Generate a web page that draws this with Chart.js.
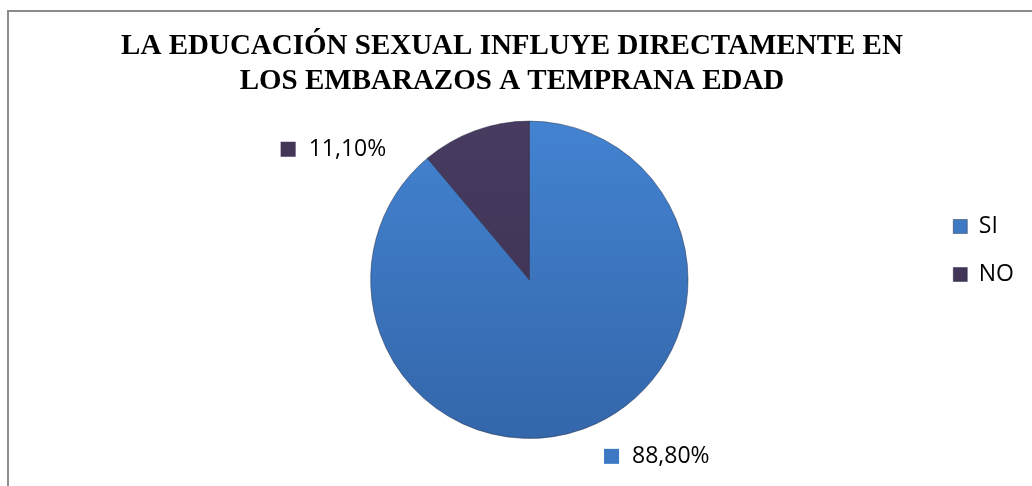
<!DOCTYPE html>
<html>
<head>
<meta charset="utf-8">
<script src="https://cdn.jsdelivr.net/npm/chart.js@4"></script>
<style>
  html, body { margin: 0; padding: 0; background: #fff; }
  #frame { position: absolute; left: 7px; top: 10px; width: 1100px; height: 600px; border: 2px solid #8c8c8c; }
  #wrap { position: absolute; left: 0; top: 0; width: 1032px; height: 486px; }
</style>
</head>
<body>
<div id="frame"></div>
<div id="wrap"><canvas id="pieChart" width="1032" height="486"></canvas></div>
<script>
const categories = ['SI', 'NO'];
const percentages = [88.8, 11.1];
const titleLines = ['LA EDUCACIÓN SEXUAL INFLUYE DIRECTAMENTE EN', 'LOS EMBARAZOS A TEMPRANA EDAD'];

const baseColors = ['#3c78c4', '#433657'];
const topColors = ['#4383d1', '#473b60'];
const bottomColors = ['#3466aa', '#3a2f4f'];

// percentage labels outside the slices, with a small colour square in front
const outsideLabels = {
    id: 'outsideLabels',
    afterDatasetsDraw(chart, args, opts) {
        const ctx = chart.ctx;
        const meta = chart.getDatasetMeta(0);
        ctx.save();
        ctx.font = opts.font;
        ctx.textBaseline = 'middle';
        ctx.textAlign = 'left';
        meta.data.forEach((arc, i) => {
            const mid = (arc.startAngle + arc.endAngle) / 2;
            const r = arc.outerRadius * 1.1;
            const off = opts.offsets[i];
            const x = arc.x + Math.cos(mid) * r + off.dx;
            const y = arc.y + Math.sin(mid) * r + off.dy;
            ctx.fillStyle = baseColors[i];
            ctx.fillRect(x, y - 7, 15, 15);
            ctx.fillStyle = '#000';
            const txt = percentages[i].toFixed(2).replace('.', ',') + '%';
            ctx.fillText(txt, x + 28, y + 1);
        });
        ctx.restore();
    }
};

function sliceFill(context) {
    const i = context.dataIndex;
    const area = context.chart.chartArea;
    if (!area) return baseColors[i];
    const g = context.chart.ctx.createLinearGradient(0, area.top, 0, area.bottom);
    g.addColorStop(0, topColors[i]);
    g.addColorStop(1, bottomColors[i]);
    return g;
}

new Chart(document.getElementById('pieChart'), {
    type: 'pie',
    data: {
        labels: categories,
        datasets: [{
            data: percentages,
            backgroundColor: sliceFill,
            borderColor: 'rgba(30, 35, 60, 0.45)',
            borderWidth: 1
        }]
    },
    plugins: [outsideLabels],
    options: {
        responsive: false,
        animation: false,
        layout: {
            padding: { top: 0, right: 8, bottom: 47, left: 0 }
        },
        plugins: {
            title: {
                display: true,
                text: titleLines,
                color: '#000',
                font: { family: 'Liberation Serif', size: 29, weight: 'bold', lineHeight: 1.2 },
                padding: { top: 29, bottom: 22 }
            },
            // empty left subtitle used as a spacer to push the pie right
            subtitle: {
                display: true,
                position: 'left',
                text: '',
                font: { size: 12 },
                padding: { top: 116, bottom: 0 }
            },
            legend: {
                position: 'right',
                align: 'start',
                fullSize: false,
                title: {
                    display: true,
                    text: '',
                    font: { size: 12 },
                    padding: { top: 55, bottom: 0 }
                },
                labels: {
                    boxWidth: 14,
                    boxHeight: 14,
                    padding: 25,
                    color: '#000',
                    font: { family: 'Open Sans', size: 23 }
                }
            },
            tooltip: { enabled: false },
            outsideLabels: {
                font: '23px "Open Sans"',
                offsets: [{ dx: 15, dy: 12 }, { dx: -189, dy: 33 }]
            }
        }
    }
});
</script>
</body>
</html>
